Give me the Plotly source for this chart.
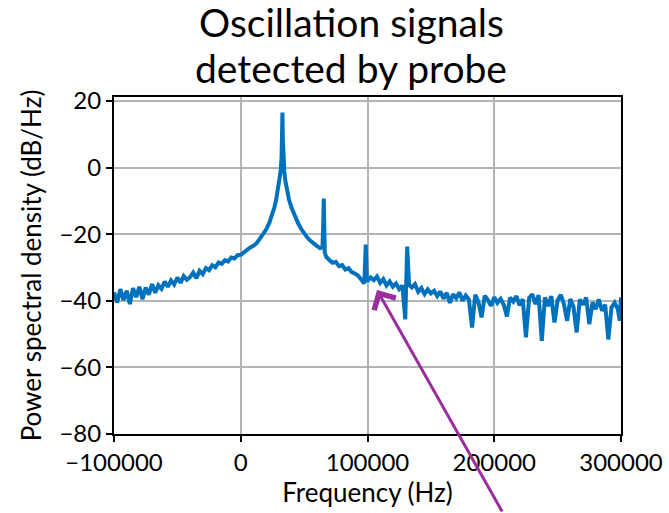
import plotly.graph_objects as go

# Frequencies (Hz) and PSD (dB/Hz)
freq_seg_a = [-100000, -97500, -95000, -92500, -90000, -87500, -85000, -82500, -80000, -77500,
              -75000, -72500, -70000, -67500, -65000, -62500, -60000, -57500, -55000, -52500,
              -50000, -47500, -45000, -42500, -40000, -37500, -35000, -32500, -30000, -27500,
              -25000, -22500, -20000, -17500, -15000, -12500, -10000, -7500, -5000, -2500, 0]
psd_seg_a = [-37.5, -40.5, -36.5, -39.8, -37.0, -41.0, -36.2, -38.9, -35.8, -39.5,
             -36.0, -38.2, -35.0, -37.6, -35.3, -36.4, -34.2, -35.8, -33.9, -35.1,
             -33.0, -34.6, -32.6, -33.7, -32.9, -31.5, -33.2, -31.0, -32.0, -30.2,
             -30.8, -29.3, -29.9, -28.5, -28.9, -27.8, -28.2, -27.0, -27.3, -26.3, -26.2]

freq_seg_b = [2500, 5000, 7500, 10000, 12500, 15000, 17500, 20000, 22500, 25000,
              26500, 28000, 29500, 30500, 31500, 32200, 32600, 32900, 33200, 33600,
              34300, 35200, 36500, 38000, 40000, 42500, 45000, 47500, 50000, 52500,
              55000, 57500, 60000, 62500, 64500, 65200, 65500, 65800, 66300, 67500,
              70000, 72500, 75000, 77500, 80000]
psd_seg_b = [-25.4, -24.9, -24.0, -23.5, -22.7, -21.4, -20.2, -18.6, -16.6, -14.0,
             -12.0, -9.5, -6.5, -4.0, -1.0, 3.0, 8.5, 16.5, 9.0, 3.0,
             -1.0, -4.0, -7.0, -9.5, -12.0, -14.5, -16.5, -18.3, -19.8, -21.0,
             -22.0, -22.9, -23.5, -24.2, -24.0, -15.0, -9.3, -16.0, -25.6, -26.8,
             -27.8, -28.6, -28.3, -29.6, -29.3]

freq_seg_c = [82500, 85000, 87500, 90000, 92500, 95000, 97500, 98600, 99600, 102500,
              105000, 107500, 110000, 112500, 115000, 117500, 120000, 122500, 125000, 127500,
              129800, 131300, 132800, 135000, 137500, 140000, 142500, 145000, 147500, 150000]
psd_seg_c = [-30.6, -30.2, -31.4, -31.8, -32.4, -33.6, -34.8, -23.1, -34.2, -33.0,
             -33.8, -32.7, -34.6, -33.5, -35.4, -34.2, -35.8, -34.8, -36.5, -35.4,
             -45.6, -23.7, -35.2, -36.0, -35.0, -37.3, -36.2, -38.0, -36.6, -37.8]

freq_seg_d = [152500, 155000, 157500, 160000, 162500, 165000, 167500, 170000, 172500, 175000,
              177500, 180000, 182500, 185000, 187500, 190000, 192500, 195000, 197500, 200000,
              202500, 205000, 207500, 210000, 212500, 215000, 217500, 220000, 222500, 225000,
              227500, 230000, 232500, 235000, 237500, 240000, 242500, 245000, 247500, 250000,
              252500, 255000, 257500, 260000, 262500, 265000, 267500, 270000, 272500, 275000,
              277500, 280000, 282500, 285000, 287500, 290000, 292500, 295000, 297500, 299000, 300000]
psd_seg_d = [-37.0, -38.6, -37.2, -39.4, -37.6, -40.6, -38.0, -39.2, -37.5, -40.0,
             -38.4, -39.6, -48.0, -38.2, -40.3, -45.0, -38.5, -39.8, -41.5, -38.9,
             -40.6, -39.4, -41.2, -44.7, -39.0, -40.2, -38.6, -41.4, -39.5, -51.0,
             -39.2, -38.0, -41.0, -38.3, -52.0, -39.0, -41.6, -38.6, -46.5, -39.8,
             -38.2, -41.0, -46.0, -39.5, -41.8, -49.5, -39.6, -41.2, -39.0, -47.0,
             -40.5, -42.5, -39.6, -43.0, -41.2, -51.6, -42.0, -40.6, -42.5, -46.0, -39.0]

freq = freq_seg_a + freq_seg_b + freq_seg_c + freq_seg_d
psd = psd_seg_a + psd_seg_b + psd_seg_c + psd_seg_d

x_ticks = [-100000, 0, 100000, 200000, 300000]
y_ticks = [-80, -60, -40, -20, 0, 20]

title_lines = ["Oscillation signals", "detected by probe"]
x_title = "Frequency (Hz)"
y_title = "Power spectral density (dB/Hz)"

fig = go.Figure()
fig.add_trace(go.Scatter(x=freq, y=psd, mode="lines",
                         line=dict(color="#0072BD", width=4), showlegend=False))

axis_common = dict(showline=True, linecolor="black", linewidth=2, mirror=True,
                   ticks="outside", ticklen=6, tickwidth=2, tickcolor="black",
                   showgrid=True, gridcolor="#b4b4b4", gridwidth=2, zeroline=False,
                   automargin=False,
                   tickfont=dict(family="Lato", size=24, color="black"))

fig.update_layout(
    width=669, height=513,
    margin=dict(l=114, r=48, t=97, b=79),
    paper_bgcolor="white", plot_bgcolor="white",
    xaxis=dict(range=[-100000, 300000], tickvals=x_ticks,
               ticktext=[f"{v}".replace("-", "\u2212") for v in x_ticks],
               title=dict(text=x_title, standoff=8,
                          font=dict(family="Lato", size=26, color="black")),
               **axis_common),
    yaxis=dict(range=[-80, 21.2], tickvals=y_ticks,
               ticktext=[f"{v}".replace("-", "\u2212") for v in y_ticks],
               title=dict(text=y_title, standoff=10,
                          font=dict(family="Lato", size=26, color="black")),
               **axis_common),
)

# Two-line title placed as text annotations
for line_text, y_px in zip(title_lines, [22, 68]):
    fig.add_annotation(xref="paper", yref="paper",
                       x=(351 - 114) / 507, y=(434 - y_px) / 337,
                       xanchor="center", yanchor="middle", showarrow=False,
                       text=line_text, font=dict(family="Lato", size=39, color="black"))

fig.add_annotation(xref="paper", yref="paper", x=(377 - 114) / 507, y=(434 - 290) / 337,
                   ax=126, ay=224, text="", showarrow=True,
                   arrowhead=4, arrowsize=1.6, arrowwidth=3, arrowcolor="#9a2e9e")

fig.write_html("out.html")
